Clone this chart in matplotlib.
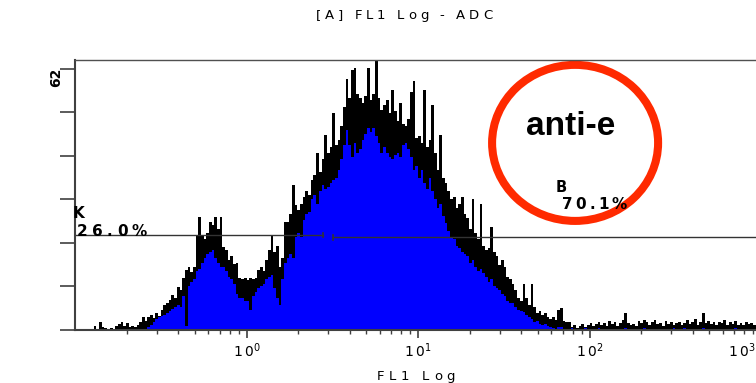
import numpy as np
import matplotlib.pyplot as plt
from matplotlib.patches import Ellipse
from matplotlib.ticker import LogLocator, NullFormatter
from matplotlib.transforms import IdentityTransform, offset_copy

plt.rcParams['font.family'] = 'DejaVu Sans'
plt.rcParams['mathtext.default'] = 'regular'

W, H = 756, 383

# FL1 log histogram, 64 channels per decade from 0.1 to 1000
black_counts = [
    0, 0, 0, 0, 0, 0, 0, 0.9,
    0.3, 1.9, 0.8, 0.5, 0, 0.4, 0.3, 1.0,
    1.4, 1.9, 0.9, 1.6, 0.8, 1.0, 0.7, 1.2,
    2.0, 3.1, 2.2, 3.0, 3.6, 2.8, 4.0, 3.4,
    4.8, 5.9, 6.5, 7.1, 8.3, 7.6, 10.2, 9.4,
    12.4, 14.3, 15.0, 13.8, 15.0, 22.6, 26.8, 22.3,
    21.5, 23.0, 25.7, 25.0, 26.8, 24.0, 26.8, 19.7,
    19.0, 16.6, 17.5, 15.6, 16.0, 12.4, 12.0, 12.4,
    11.9, 12.4, 12.0, 12.4, 14.3, 15.0, 14.0, 16.6,
    19.0, 22.6, 18.5, 20.0, 15.0, 17.0, 25.7, 25.7,
    27.5, 34.4, 29.7, 28.5, 30.0, 31.5, 33.0, 32.1,
    35.6, 36.8, 42.0, 37.5, 40.5, 46.3, 42.0, 43.5,
    51.5, 44.0, 45.0, 48.5, 53.0, 59.5, 55.0, 61.8,
    62.3, 56.0, 55.0, 54.0, 55.5, 62.3, 54.6, 56.0,
    64.0, 55.0, 52.3, 53.4, 54.6, 51.5, 57.0, 52.0,
    49.5, 54.0, 49.0, 48.5, 50.0, 56.5, 59.0, 45.5,
    46.0, 44.5, 57.0, 43.5, 45.0, 53.4, 42.0, 38.0,
    46.3, 36.0, 35.0, 33.0, 31.0, 31.5, 29.0, 30.0,
    31.5, 27.5, 26.5, 24.0, 31.0, 23.0, 21.5, 30.0,
    20.0, 19.0, 19.5, 24.5, 18.5, 17.5, 15.5, 16.5,
    15.0, 12.5, 12.0, 11.0, 9.5, 7.5, 7.0, 11.0,
    7.5, 6.0, 11.0, 5.5, 4.0, 4.5, 3.5, 4.0,
    3.0, 2.6, 3.0, 2.4, 4.8, 5.2, 2.2, 1.8,
    2.0, 0.8, 1.2, 0.5, 1.0, 1.4, 0.7, 1.2,
    1.6, 1.0, 1.4, 2.0, 1.2, 1.7, 0.9, 2.2,
    1.4, 1.9, 1.0, 1.6, 2.4, 4.0, 1.7, 1.2,
    1.5, 1.0, 2.1, 1.6, 2.3, 1.8, 1.2, 1.9,
    2.4, 1.4, 1.7, 1.0, 2.2, 1.5, 1.9, 1.2,
    1.6, 2.0, 1.1, 1.7, 2.4, 1.5, 1.9, 2.6,
    1.3, 1.8, 4.0, 1.6, 2.2, 1.4, 1.8, 1.1,
    2.0, 1.6, 2.3, 1.2, 1.8, 1.5, 2.1, 1.3,
    1.7, 1.2, 1.9, 1.4, 1.6, 1.2, 1.8, 1.5,
]
blue_counts = [
    0, 0, 0, 0, 0, 0, 0, 0,
    0, 0, 0, 0, 0, 0, 0, 0,
    0, 0, 0, 0, 0, 0, 0, 0,
    0, 0, 0.3, 0.8, 1.2, 2.0, 2.5, 3.1,
    3.3, 3.6, 4.0, 4.5, 5.0, 5.5, 5.9, 5.5,
    8.0, 1.0, 10.5, 11.5, 12.0, 14.0, 14.5, 16.0,
    17.0, 18.0, 18.5, 19.0, 17.0, 16.0, 15.0, 15.0,
    14.0, 12.5, 12.0, 11.0, 8.5, 7.5, 7.5, 7.0,
    7.0, 4.8, 8.0, 9.0, 10.0, 10.5, 11.0, 12.0,
    12.5, 13.0, 10.0, 7.5, 6.0, 12.0, 16.0, 17.0,
    18.0, 17.0, 22.0, 23.0, 22.0, 26.0, 27.5, 28.0,
    31.0, 32.0, 30.0, 33.0, 34.5, 33.5, 34.0, 35.0,
    35.5, 36.0, 38.0, 40.5, 44.0, 47.5, 44.0, 41.0,
    44.5, 42.0, 43.0, 45.0, 46.5, 48.0, 47.0, 48.0,
    46.0, 44.5, 42.0, 43.5, 42.0, 41.0, 40.5, 41.5,
    42.0, 41.0, 44.0, 44.5, 43.0, 41.0, 38.0, 39.0,
    36.0, 38.0, 35.0, 33.5, 36.0, 33.0, 31.0, 29.0,
    30.0, 27.0, 25.5, 23.5, 22.0, 21.5, 20.0, 19.5,
    18.5, 18.0, 17.5, 16.0, 16.5, 15.0, 14.0, 14.5,
    13.5, 12.5, 11.5, 12.0, 10.5, 10.0, 9.5, 8.5,
    8.0, 7.0, 6.5, 6.5, 5.5, 4.8, 4.5, 4.2,
    3.5, 3.0, 2.5, 2.0, 2.2, 1.5, 1.2, 1.5,
    1.0, 0.8, 0.5, 0, 0.8, 0.6, 0, 0,
    0, 0.4, 0, 0, 0, 0, 0.4, 0,
    0, 0, 0, 0.4, 0, 0, 0, 0,
    0, 0, 0, 0, 0, 0.4, 0, 0,
    0, 0, 0, 0, 0.4, 0, 0, 0,
    0, 0, 0, 0, 0, 0, 0, 0.4,
    0, 0, 0, 0.4, 0, 0, 0, 0,
    0, 0, 0.4, 0, 0, 0, 0, 0,
    0, 0, 0, 0, 0, 0, 0.4, 0,
    0, 0, 0, 0, 0, 0, 0, 0,
]
edges = np.logspace(-1, 3, len(black_counts) + 1)

# marker gates: (x start, x end, level) and their percentages
gate_k = (0.1, 2.8, 22.6)
gate_b = (3.2, 1000.0, 22.0)
pct_k = "26.0%"
pct_b = "70.1%"
y_top_count = 62
x_major = [1, 10, 100, 1000]


def spaced_text(x0, y_top, s, width, **kw):
    # matplotlib has no letter spacing: place characters one by one (pixel coords)
    r = fig.canvas.get_renderer()
    size = kw.get('fontsize', 9)
    widths = []
    for ch in s:
        if ch == ' ':
            widths.append(size * 0.3 * fig.dpi / 72)
        else:
            t = fig.text(0, 0, ch, **kw)
            widths.append(t.get_window_extent(r).width)
            t.remove()
    gap = (width - sum(widths)) / (len(s) - 1) if len(s) > 1 else 0
    x = x0
    for ch, w in zip(s, widths):
        if ch != ' ':
            fig.text(x, H - y_top, ch, transform=IdentityTransform(),
                     ha='left', va='baseline', **kw)
        x += w + gap


fig = plt.figure(figsize=(W / 100, H / 100), dpi=100)
ax = fig.add_axes([75 / W, 53 / H, 686 / W, 270 / H])

ax.stairs(black_counts, edges, fill=True, color='black', lw=0)
ax.stairs(blue_counts, edges, fill=True, color='#0000ff', lw=0)

ax.set_xscale('log')
ax.set_xlim(0.1, 1000)
ax.set_ylim(0, 64.1)

for side in ['left', 'bottom']:
    ax.spines[side].set_color('#404040')
    ax.spines[side].set_linewidth(1.5)
ax.spines['top'].set_color('#505050')
ax.spines['top'].set_linewidth(1)
ax.spines['right'].set_visible(False)

ax.set_yticks(np.linspace(0, y_top_count, 7))
ax.set_yticklabels([])
ax.tick_params(axis='y', direction='out', length=11, width=1.2, color='#404040')

ax.set_xticks(x_major)
ax.set_xticklabels([])
ax.xaxis.set_minor_locator(LogLocator(base=10, subs=np.arange(2, 10)))
ax.xaxis.set_minor_formatter(NullFormatter())
ax.tick_params(axis='x', which='major', direction='out', length=6, width=1.2,
               color='#404040')
ax.tick_params(axis='x', which='minor', direction='out', length=3, width=1,
               color='#404040')

# decade labels; the last one is pulled in from the right edge
for v in x_major:
    last = v == x_major[-1]
    tr = offset_copy(ax.get_xaxis_transform(), fig=fig, x=-6 if last else 0,
                     y=-11, units='dots')
    ax.text(v, 0, r'$1\,0^{%d}$' % np.log10(v), transform=tr,
            ha='right' if last else 'center', va='top', fontsize=10)

# gate markers
ax.plot(gate_k[:2], [gate_k[2]] * 2, color='#333333', lw=1)
ax.plot([gate_k[1]] * 2, [gate_k[2] - 0.5, gate_k[2] + 0.5], color='#333333', lw=1.2)
ax.plot(gate_b[:2], [gate_b[2]] * 2, color='#333333', lw=1, clip_on=False)
ax.plot([gate_b[0]] * 2, [gate_b[2] - 0.6, gate_b[2] + 0.6], color='#333333', lw=1.2)

fig.text(56, H - 77, str(y_top_count), transform=IdentityTransform(), rotation=90,
         ha='center', va='center', fontsize=10, fontweight='bold')

spaced_text(316, 19, "[A] FL1 Log - ADC", 176, fontsize=9.5)
spaced_text(377, 380, "FL1 Log", 78, fontsize=9.5)
spaced_text(73, 218, "K", 0, fontsize=11, fontweight='bold')
spaced_text(77, 236, pct_k, 70, fontsize=11, fontweight='bold')
spaced_text(556, 192, "B", 0, fontsize=10.5, fontweight='bold')
spaced_text(562, 209, pct_b, 65, fontsize=11, fontweight='bold')

# highlighted annotation
ax.add_patch(Ellipse((0.729, 0.693), 0.242, 0.578, transform=ax.transAxes,
                     fill=False, ec='#ff2a00', lw=5.8, clip_on=False))
fig.text(571, H - 135, 'anti-e', transform=IdentityTransform(), ha='center',
         va='baseline', fontsize=24, fontweight='bold', family='Liberation Sans')

fig.savefig('out.png', dpi=100)
